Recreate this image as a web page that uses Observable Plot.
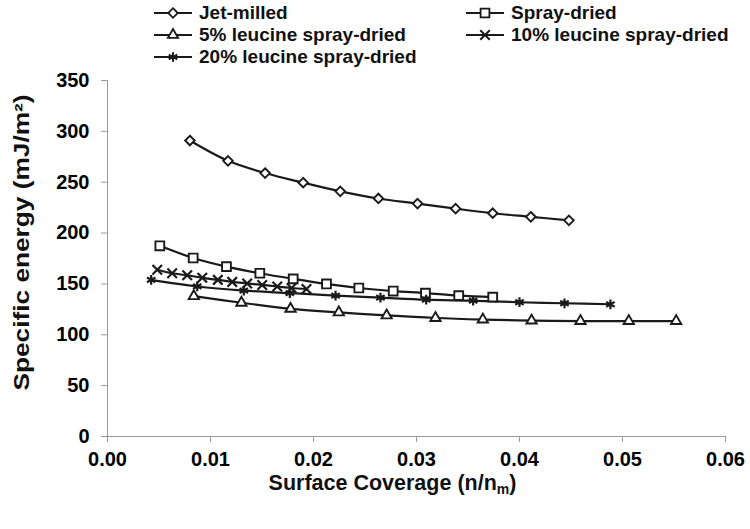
<!DOCTYPE html>
<html>
<head>
<meta charset="utf-8">
<script src="https://cdn.jsdelivr.net/npm/d3@7"></script>
<script src="https://cdn.jsdelivr.net/npm/@observablehq/plot@0.6"></script>
<style>
  html, body { margin: 0; padding: 0; background: #fff; }
  #fig { width: 750px; position: relative; font-family: "Liberation Sans", Arial, sans-serif; font-weight: bold; }
  #legend { position: relative; width: 750px; height: 68px; }
  .item { position: absolute; display: flex; align-items: center; font-size: 19px; color: #111; white-space: nowrap; }
  .item svg { margin-right: 7px; }
</style>
</head>
<body>
<div id="fig"><div id="legend"></div><div id="chart"></div></div>
<script>
// ---- data ----
const seriesNames = ["Jet-milled", "Spray-dried", "5% leucine spray-dried", "10% leucine spray-dried", "20% leucine spray-dried"];
const jetX   = [0.0080, 0.0117, 0.0153, 0.0190, 0.0226, 0.0263, 0.0301, 0.0338, 0.0374, 0.0411, 0.0448];
const jetY   = [291, 271, 259, 249.5, 241, 234, 229, 224, 219.5, 216, 212.5];
const sprayX = [0.00508, 0.00832, 0.01155, 0.01479, 0.01803, 0.02126, 0.0244, 0.02774, 0.03087, 0.0341, 0.0374];
const sprayY = [187.5, 175.5, 167, 160.5, 155, 150, 146, 143, 141, 138.5, 137];
const leu5X  = [0.00838, 0.0130, 0.01777, 0.02246, 0.0271, 0.03184, 0.03644, 0.04117, 0.04592, 0.05061, 0.05521];
const leu5Y  = [138, 131.5, 125.5, 122, 119, 116.5, 115, 114, 113.5, 113.5, 113.5];
const leu10X = [0.00483, 0.00628, 0.00774, 0.00920, 0.01071, 0.01211, 0.01356, 0.01502, 0.01648, 0.01787, 0.01932];
const leu10Y = [164, 160.5, 158.5, 156, 154, 152, 150.5, 149, 147.5, 146, 145];
const leu20X = [0.00424, 0.00871, 0.01323, 0.0177, 0.02214, 0.0265, 0.03094, 0.0355, 0.0400, 0.04437, 0.04883];
const leu20Y = [154, 147.5, 143.5, 141, 138.5, 136.5, 134.5, 133.5, 132, 131, 130];
const xTicks = [0, 0.01, 0.02, 0.03, 0.04, 0.05, 0.06];
const yTicks = [0, 50, 100, 150, 200, 250, 300, 350];

const seriesX = [jetX, sprayX, leu5X, leu10X, leu20X];
const seriesY = [jetY, sprayY, leu5Y, leu10Y, leu20Y];
const symbols = ["diamond2", "square2", "triangle2", "times", "asterisk"];
const radii   = [4.3, 5.6, 4.9, 4.4, 4.6];
const d3sym = {diamond2: d3.symbolDiamond2, square2: d3.symbolSquare2, triangle2: d3.symbolTriangle2, times: d3.symbolTimes, asterisk: d3.symbolAsterisk};

const rows = [];
seriesNames.forEach((name, i) => {
  seriesX[i].forEach((x, j) => rows.push({series: name, i, x, y: seriesY[i][j]}));
});

const ink = "#1a1a1a";
const axisGray = "#9a9a9a";

const marks = [
  Plot.ruleY([0], {stroke: axisGray, strokeWidth: 1}),
  Plot.ruleX([0], {stroke: axisGray, strokeWidth: 1}),
  Plot.axisX({ticks: xTicks, tickFormat: d3.format(".2f"), tickSize: 6, tickPadding: 9, label: null, stroke: axisGray, fill: "#000"}),
  Plot.axisY({ticks: yTicks, tickSize: 6, tickPadding: 12, label: null, stroke: axisGray, fill: "#000"})
];
seriesNames.forEach((name, i) => {
  const data = rows.filter(d => d.i === i);
  marks.push(Plot.line(data, {x: "x", y: "y", curve: "catmull-rom", stroke: ink, strokeWidth: 2.2}));
});
seriesNames.forEach((name, i) => {
  const data = rows.filter(d => d.i === i);
  const hollow = ["diamond2", "square2", "triangle2"].includes(symbols[i]);
  marks.push(Plot.dot(data, {x: "x", y: "y", symbol: () => symbols[i], r: radii[i],
    fill: hollow ? "white" : "none", stroke: ink, strokeWidth: hollow ? 1.9 : 2.2}));
});
marks.push(Plot.text(["Surface Coverage (n/nm)"], {frameAnchor: "bottom", textAnchor: "middle", lineAnchor: "middle", dx: -24, dy: 47, fontSize: 21.5, fill: "#111", text: d => d}));
marks.push(Plot.text(["Specific energy (mJ/m²)"], {frameAnchor: "left", textAnchor: "middle", lineAnchor: "middle", dx: -85, dy: -16, rotate: -90, fontSize: 21.5, fill: "#111", text: d => d}));

const chart = Plot.plot({
  width: 750,
  height: 461,
  marginTop: 12,
  marginBottom: 93,
  marginLeft: 107,
  marginRight: 25,
  x: {domain: [0, 0.06]},
  y: {domain: [0, 350]},
  style: {fontFamily: "'Liberation Sans', Arial, sans-serif", fontWeight: "bold", fontSize: "20px", background: "white", color: "#000", overflow: "visible"},
  marks
});
document.getElementById("chart").appendChild(chart);

// subscript m in x title; stretch y title to the reference's length
d3.select(chart).selectAll("text").each(function() {
  const t = d3.select(this);
  if (t.text() === "Surface Coverage (n/nm)") {
    const tgt = t.select("tspan").empty() ? t : t.select("tspan");
    tgt.text("Surface Coverage (n/n");
    tgt.append("tspan").attr("font-size", 14).attr("dy", 4).text("m");
    tgt.append("tspan").attr("dy", -4).text(")");
  } else if (t.text() === "Specific energy (mJ/m²)") {
    const tgt = t.select("tspan").empty() ? t : t.select("tspan");
    tgt.attr("textLength", 296).attr("lengthAdjust", "spacingAndGlyphs");
  }
});

// legend
const legendPos = [
  {left: 154, top: 2}, {left: 466, top: 2},
  {left: 154, top: 24}, {left: 466, top: 24},
  {left: 154, top: 46}
];
const legend = document.getElementById("legend");
seriesNames.forEach((name, i) => {
  const div = document.createElement("div");
  div.className = "item";
  div.style.left = legendPos[i].left + "px";
  div.style.top = legendPos[i].top + "px";
  const hollow = ["diamond2", "square2", "triangle2"].includes(symbols[i]);
  const path = d3.symbol(d3sym[symbols[i]], Math.PI * radii[i] * radii[i])();
  div.innerHTML = `<svg width="38" height="20"><line x1="0" x2="38" y1="10" y2="10" stroke="${ink}" stroke-width="2"/>` +
    `<path transform="translate(19,10)" d="${path}" fill="${hollow ? "white" : "none"}" stroke="${ink}" stroke-width="${hollow ? 1.8 : 2}"/></svg>` +
    `<span>${name}</span>`;
  legend.appendChild(div);
});
</script>
</body>
</html>
